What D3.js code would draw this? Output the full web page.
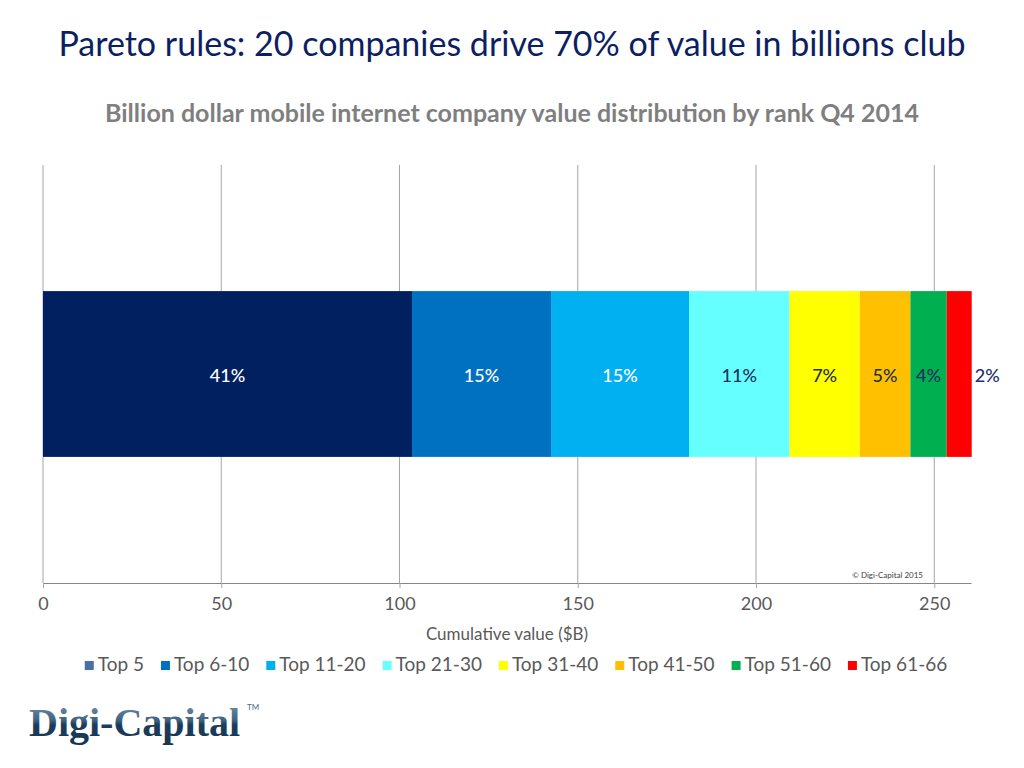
<!DOCTYPE html>
<html>
<head>
<meta charset="utf-8">
<script src="https://cdn.jsdelivr.net/npm/d3@7"></script>
<style>
  body { margin: 0; background: #fff; }
  svg { font-family: Lato, "Open Sans", sans-serif; }
</style>
</head>
<body>
<svg id="chart" width="1024" height="768"></svg>
<script>
// data
const segments = ['Top 5', 'Top 6-10', 'Top 11-20', 'Top 21-30', 'Top 31-40', 'Top 41-50', 'Top 51-60', 'Top 61-66'];
const values = [103.5, 39.0, 38.7, 28.2, 19.7, 14.2, 10.2, 7.0]; // $B per rank group
const pctLabels = ['41%', '15%', '15%', '11%', '7%', '5%', '4%', '2%'];
const barColors = ['#002060', '#0070c0', '#00b0f0', '#66ffff', '#ffff00', '#ffc000', '#00b050', '#ff0000'];
const legendColors = ['#4a6fa5', '#0070c0', '#00b0f0', '#66ffff', '#ffff00', '#ffc000', '#00b050', '#ff0000'];
const labelColors = ['#fff', '#fff', '#fff', '#1f2f5f', '#1f2f3f', '#1f2f3f', '#1f2f5f', '#1f2f6f'];
const xTicks = [0, 50, 100, 150, 200, 250];
const category = ['Q4 2014'];

const svg = d3.select('#chart');

// title + subtitle
svg.append('text').attr('x', 512).attr('y', 56).attr('text-anchor', 'middle')
  .style('font-size', '34px').style('fill', '#0d1f63').text('Pareto rules: 20 companies drive 70% of value in billions club');
svg.append('text').attr('x', 512).attr('y', 122).attr('text-anchor', 'middle')
  .style('font-size', '25px').style('font-weight', 'bold').style('fill', '#7f7f7f')
  .text('Billion dollar mobile internet company value distribution by rank Q4 2014');

// stacked data (cumulative start/end)
let acc = 0;
const stack = values.map((v, i) => {
  const d = { name: segments[i], start: acc, end: acc + v, label: pctLabels[i], color: barColors[i], labelColor: labelColors[i] };
  acc += v;
  return d;
});

const plot = { top: 165, bottom: 583 };
const x = d3.scaleLinear().domain([0, 260.3]).range([43, 971]);
const y = d3.scaleBand().domain(category).range([plot.top, plot.bottom]).padding(0.432);

// gridlines
svg.append('g').selectAll('line').data(xTicks).join('line')
  .attr('x1', d => x(d)).attr('x2', d => x(d))
  .attr('y1', plot.top).attr('y2', plot.bottom)
  .attr('stroke', '#a6a6a6').attr('stroke-width', 1);

// bars
svg.append('g').selectAll('rect').data(stack).join('rect')
  .attr('x', d => x(d.start)).attr('width', d => x(d.end) - x(d.start))
  .attr('y', y(category[0])).attr('height', y.bandwidth())
  .attr('fill', d => d.color);

// bar labels, the last one sits outside the bar
const midY = y(category[0]) + y.bandwidth() / 2;
svg.append('g').selectAll('text').data(stack).join('text')
  .attr('x', (d, i) => i === stack.length - 1 ? x(d.end) + 3 : (x(d.start) + x(d.end)) / 2)
  .attr('y', midY + 8)
  .attr('text-anchor', (d, i) => i === stack.length - 1 ? 'start' : 'middle')
  .style('font-size', '18px').style('font-weight', 500)
  .style('fill', d => d.labelColor)
  .text(d => d.label);

// x axis
const xAxis = d3.axisBottom(x).tickValues(xTicks).tickSizeInner(5).tickSizeOuter(0).tickPadding(9);
const xAxisDraw = svg.append('g').attr('transform', `translate(0,${plot.bottom})`).call(xAxis);
xAxisDraw.select('.domain').attr('stroke', '#868686');
xAxisDraw.selectAll('.tick line').attr('stroke', '#a6a6a6');
xAxisDraw.selectAll('text').style('font-size', '18px').style('fill', '#595959').style('font-family', 'Lato, sans-serif');

svg.append('text').attr('x', 507).attr('y', 640).attr('text-anchor', 'middle')
  .style('font-size', '17px').style('fill', '#595959').text('Cumulative value ($B)');

// copyright
svg.append('text').attr('x', 923).attr('y', 578).attr('text-anchor', 'end')
  .style('font-size', '8px').style('fill', '#404040').text('\u00a9 Digi-Capital 2015');

// legend
const legend = svg.append('g');
const legendGap = 17;
let lx = 0;
segments.forEach((s, i) => {
  const item = legend.append('g').attr('transform', `translate(${lx},0)`);
  item.append('rect').attr('x', 0).attr('y', -10).attr('width', 9).attr('height', 9).attr('fill', legendColors[i]);
  const t = item.append('text').attr('x', 13).attr('y', 0)
    .style('font-size', '19px').style('fill', '#595959').text(s);
  lx += 13 + t.node().getComputedTextLength() + legendGap;
});
const legendWidth = lx - legendGap;
legend.attr('transform', `translate(${516 - legendWidth / 2},671)`);

// logo
const defs = svg.append('defs');
const grad = defs.append('linearGradient').attr('id', 'logoGrad').attr('x1', 0).attr('y1', 0).attr('x2', 0).attr('y2', 1);
grad.append('stop').attr('offset', '0%').attr('stop-color', '#7d98b0');
grad.append('stop').attr('offset', '45%').attr('stop-color', '#3f6381');
grad.append('stop').attr('offset', '55%').attr('stop-color', '#1b3d5c');
grad.append('stop').attr('offset', '100%').attr('stop-color', '#163652');
svg.append('text').attr('x', 29).attr('y', 736)
  .style('font-family', '"Liberation Serif", "DejaVu Serif", serif').style('font-size', '40px').style('font-weight', 'bold')
  .style('fill', 'url(#logoGrad)').text('Digi-Capital');
svg.append('text').attr('x', 247).attr('y', 710)
  .style('font-size', '8px').style('fill', '#4a6a88').text('TM');
</script>
</body>
</html>
